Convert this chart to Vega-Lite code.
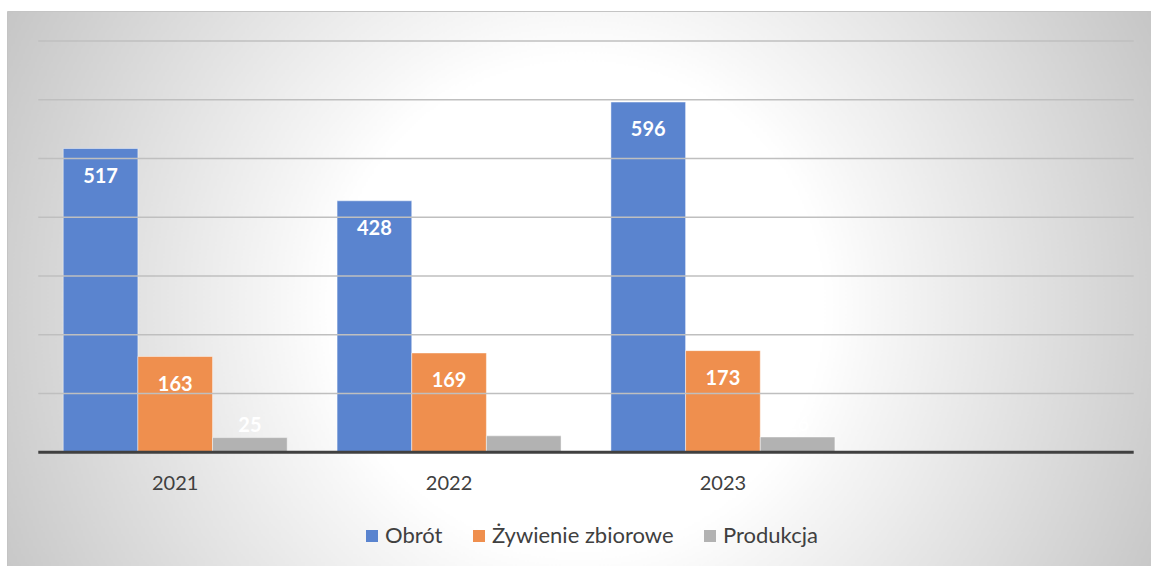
{
  "$schema": "https://vega.github.io/schema/vega-lite/v6.json",
  "width": 1144,
  "height": 555,
  "autosize": {"type": "none"},
  "padding": {"left": 7, "top": 11, "right": 0, "bottom": 0},
  "background": "white",
  "config": {
    "font": "Lato",
    "view": {
      "fill": {"gradient": "radial", "x1": 0.5, "y1": 0.515, "r1": 0, "x2": 0.5, "y2": 0.515, "r2": 0.56,
        "stops": [{"offset": 0, "color": "#ffffff"}, {"offset": 0.38, "color": "#ffffff"}, {"offset": 0.47, "color": "#f6f6f6"}, {"offset": 1, "color": "#c6c6c6"}]},
      "stroke": "#c4c4c4",
      "strokeWidth": 1
    }
  },
  "datasets": {
    "bars": [
      {"year": "2021", "series": "Obrót", "value": 517},
      {"year": "2021", "series": "Żywienie zbiorowe", "value": 163},
      {"year": "2021", "series": "Produkcja", "value": 25},
      {"year": "2022", "series": "Obrót", "value": 428},
      {"year": "2022", "series": "Żywienie zbiorowe", "value": 169},
      {"year": "2022", "series": "Produkcja", "value": 28},
      {"year": "2023", "series": "Obrót", "value": 596},
      {"year": "2023", "series": "Żywienie zbiorowe", "value": 173},
      {"year": "2023", "series": "Produkcja", "value": 26}
    ],
    "grid": [{"level": 100}, {"level": 200}, {"level": 300}, {"level": 400}, {"level": 500}, {"level": 600}, {"level": 700}]
  },
  "layer": [
    {
      "data": {"name": "bars"},
      "mark": {"type": "bar", "stroke": "#ffffff", "strokeOpacity": 0.45, "strokeWidth": 1},
      "encoding": {
        "x": {"field": "year", "type": "nominal",
          "scale": {"domain": ["2021", "2022", "2023", "2024"], "paddingInner": 0, "paddingOuter": 0.0887, "align": 0.644},
          "axis": {"orient": "bottom", "offset": -114, "domain": false, "ticks": false, "tickSize": 0, "grid": false, "labelAngle": 0,
            "labelFont": "Lato", "labelFontSize": 20, "labelColor": "#404040", "labelPadding": 31, "labelBaseline": "middle",
            "labelExpr": "datum.value === '2024' ? '' : datum.label", "title": null}},
        "xOffset": {"field": "series", "type": "nominal",
          "scale": {"domain": ["Obrót", "Żywienie zbiorowe", "Produkcja"], "paddingInner": 0, "paddingOuter": 0.334}},
        "y": {"field": "value", "type": "quantitative", "scale": {"domain": [-193.5, 751], "nice": false, "zero": false}, "axis": null},
        "y2": {"datum": 0},
        "color": {"field": "series", "type": "nominal",
          "scale": {"domain": ["Obrót", "Żywienie zbiorowe", "Produkcja"], "range": ["#5a84cf", "#ef8f4e", "#b2b2b2"]},
          "legend": {"orient": "none", "legendX": 354, "legendY": 514, "direction": "horizontal", "title": null,
            "symbolType": "square", "symbolSize": 144, "symbolStrokeWidth": 0, "symbolOpacity": 1,
            "labelFont": "Lato", "labelFontSize": 22, "labelColor": "#404040", "labelOffset": 2, "labelLimit": 500, "columnPadding": 25, "padding": 0}}
      }
    },
    {
      "data": {"name": "grid"},
      "mark": {"type": "rule", "color": "#bfbfbf", "strokeWidth": 1.5},
      "encoding": {
        "y": {"field": "level", "type": "quantitative", "scale": {"domain": [-193.5, 751], "nice": false, "zero": false}, "axis": null},
        "x": {"datum": "2021", "type": "nominal", "bandPosition": 0},
        "x2": {"datum": "2024", "bandPosition": 1}
      }
    },
    {
      "data": {"values": [{"base": 0}]},
      "mark": {"type": "rule", "color": "#404040", "strokeWidth": 3},
      "encoding": {
        "y": {"field": "base", "type": "quantitative", "scale": {"domain": [-193.5, 751], "nice": false, "zero": false}, "axis": null},
        "x": {"datum": "2021", "type": "nominal", "bandPosition": 0},
        "x2": {"datum": "2024", "bandPosition": 1}
      }
    },
    {
      "data": {"name": "bars"},
      "transform": [{"filter": "datum.series !== 'Produkcja'"}],
      "mark": {"type": "text", "font": "Lato", "fontWeight": "bold", "fontSize": 20, "color": "#ffffff", "baseline": "middle", "dy": 28},
      "encoding": {
        "x": {"field": "year", "type": "nominal"},
        "xOffset": {"field": "series", "type": "nominal", "scale": {"domain": ["Obrót", "Żywienie zbiorowe", "Produkcja"], "paddingInner": 0, "paddingOuter": 0.334}},
        "y": {"field": "value", "type": "quantitative", "scale": {"domain": [-193.5, 751], "nice": false, "zero": false}, "axis": null},
        "text": {"field": "value", "type": "quantitative"}
      }
    },
    {
      "data": {"name": "bars"},
      "transform": [{"filter": "datum.series === 'Produkcja'"}],
      "mark": {"type": "text", "font": "Lato", "fontWeight": "bold", "fontSize": 20, "color": "#ffffff", "baseline": "middle", "dy": -12},
      "encoding": {
        "x": {"field": "year", "type": "nominal"},
        "xOffset": {"field": "series", "type": "nominal", "scale": {"domain": ["Obrót", "Żywienie zbiorowe", "Produkcja"], "paddingInner": 0, "paddingOuter": 0.334}},
        "y": {"field": "value", "type": "quantitative", "scale": {"domain": [-193.5, 751], "nice": false, "zero": false}, "axis": null},
        "text": {"field": "value", "type": "quantitative"}
      }
    }
  ]
}
